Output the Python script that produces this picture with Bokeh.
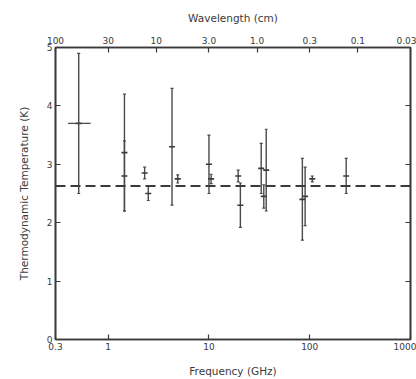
from bokeh.plotting import figure
from bokeh.models import (LogAxis, LinearAxis, FixedTicker, CustomJSTickFormatter,
                          Span, ColumnDataSource, Range1d)
from bokeh.embed import file_html
from bokeh.resources import INLINE

# ---- data ----
freq_ghz = [0.51, 1.45, 1.45, 2.3, 2.5, 4.3, 4.9, 10.0, 10.5, 19.5, 20.5,
            33.0, 37.0, 35.0, 84.5, 90.0, 106.0, 230.0]
temp_k = [3.7, 3.2, 2.8, 2.85, 2.5, 3.3, 2.75, 3.0, 2.75, 2.8, 2.3,
          2.93, 2.9, 2.45, 2.4, 2.45, 2.75, 2.8]
temp_err = [1.2, 1.0, 0.6, 0.1, 0.12, 1.0, 0.07, 0.5, 0.08, 0.1, 0.38,
            0.43, 0.7, 0.2, 0.7, 0.5, 0.05, 0.3]
# horizontal (frequency) error bar of the lowest-frequency point
hbar_freq_lo = [0.40]
hbar_freq_hi = [0.67]
hbar_temp = [3.7]
cmb_temperature = 2.63

freq_ticks = [0.3, 1, 10, 100, 1000]
freq_tick_labels = ["0.3", "1", "10", "100", "1000"]
wavelength_cm = [100, 30, 10, 3.0, 1.0, 0.3, 0.1, 0.03]
wavelength_labels = ["100", "30", "10", "3.0", "1.0", "0.3", "0.1", "0.03"]
temp_ticks = [0, 1, 2, 3, 4, 5]

FONT = "DejaVu Sans"
INK = "#3a3a3a"

p = figure(width=416, height=379, x_axis_type="log", x_range=Range1d(0.3, 1000),
           y_range=Range1d(0, 5), output_backend="svg", toolbar_location=None,
           x_axis_location=None, y_axis_location=None,
           min_border_left=55, min_border_right=6, min_border_top=47,
           min_border_bottom=39)
p.background_fill_color = "white"
p.border_fill_color = "white"
p.grid.visible = False
p.outline_line_color = INK
p.outline_line_width = 1.6

def fmt(ticks, labels):
    return CustomJSTickFormatter(args=dict(t=list(ticks), l=list(labels)), code="""
        for (let i = 0; i < t.length; i++) {
            if (Math.abs(tick / t[i] - 1) < 1e-6) return l[i];
        }
        return '';
    """)

def style(ax, label_size="9px"):
    ax.major_tick_in = 5
    ax.major_tick_out = 0
    ax.minor_tick_in = 0
    ax.minor_tick_out = 0
    ax.axis_line_color = INK
    ax.axis_line_width = 1.6
    ax.major_tick_line_color = INK
    ax.major_tick_line_width = 1.2
    ax.major_label_text_font = FONT
    ax.major_label_text_font_size = label_size
    ax.major_label_text_color = INK
    ax.axis_label_text_font = FONT
    ax.axis_label_text_font_size = "10.5px"
    ax.axis_label_text_font_style = "normal"
    ax.axis_label_text_color = INK

bottom = LogAxis(ticker=FixedTicker(ticks=freq_ticks),
                 formatter=fmt(freq_ticks, freq_tick_labels),
                 axis_label="Frequency (GHz)")
style(bottom)
bottom.major_label_standoff = 3
bottom.axis_label_standoff = 12
p.add_layout(bottom, "below")

wl_freqs = [30.0 / w for w in wavelength_cm]
top = LogAxis(ticker=FixedTicker(ticks=wl_freqs),
              formatter=fmt(wl_freqs, wavelength_labels),
              axis_label="Wavelength (cm)")
style(top)
top.major_label_standoff = 4
top.axis_label_standoff = 10
p.add_layout(top, "above")

left = LinearAxis(ticker=FixedTicker(ticks=temp_ticks),
                  axis_label="Thermodynamic Temperature (K)")
style(left)
left.major_label_standoff = 3
left.axis_label_standoff = 14
p.add_layout(left, "left")

right = LinearAxis(ticker=FixedTicker(ticks=temp_ticks))
style(right)
right.major_label_text_alpha = 0
right.major_label_text_font_size = "1px"
p.add_layout(right, "right")

# dashed 2.7 K reference line
p.add_layout(Span(location=cmb_temperature, dimension="width", line_color=INK,
                  line_width=2, line_dash="10 5"))

src = ColumnDataSource(dict(
    f=freq_ghz, t=temp_k,
    lo=[t - e for t, e in zip(temp_k, temp_err)],
    hi=[t + e for t, e in zip(temp_k, temp_err)]))
p.segment(x0="f", y0="lo", x1="f", y1="hi", source=src, line_color="#4a4a4a",
          line_width=1.4)
p.scatter(x="f", y="lo", source=src, marker="dash", size=3, line_color="#4a4a4a",
          line_width=1.2)
p.scatter(x="f", y="hi", source=src, marker="dash", size=3, line_color="#4a4a4a",
          line_width=1.2)
p.scatter(x="f", y="t", source=src, marker="dash", size=6, line_color=INK,
          line_width=1.6)

p.segment(x0=hbar_freq_lo, y0=hbar_temp, x1=hbar_freq_hi, y1=hbar_temp,
          line_color="#4a4a4a", line_width=1.3)

open("out.html", "w").write(file_html(p, INLINE))
